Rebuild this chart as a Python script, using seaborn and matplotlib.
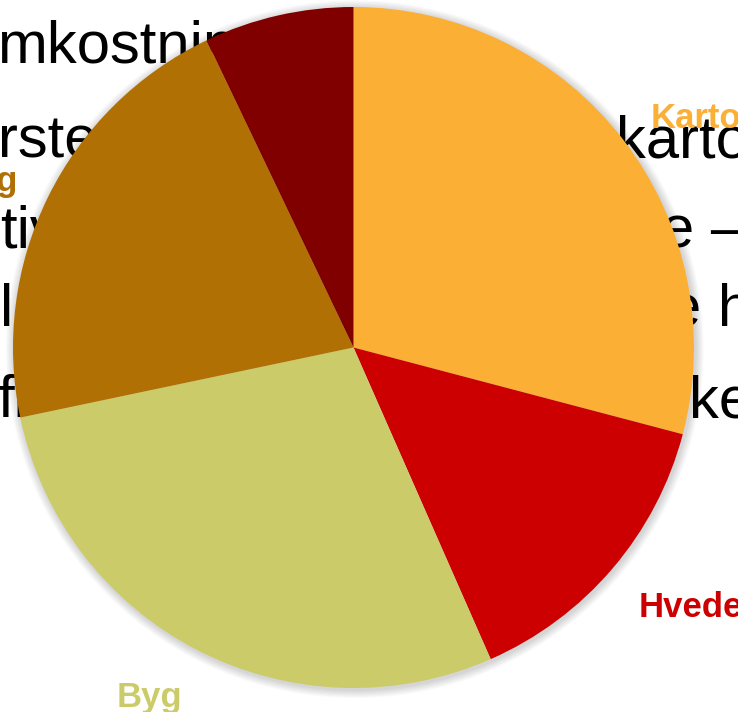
import matplotlib
matplotlib.use("Agg")
import matplotlib.pyplot as plt
import seaborn as sns
from matplotlib.patches import Circle
from matplotlib import font_manager

# ---- data ----
crops = ["Kartofler", "Hvede", "Byg", "Rug", "Havre"]
shares = [29.1, 14.3, 28.3, 21.2, 7.1]
colors = ["#FBAF35", "#CC0000", "#CBCC69", "#B07003", "#800000"]

# background slide text fragments (visible parts around the pie)
left_fragments = ["mkostninger", "rste", "tiv", "l", "fi"]
right_fragments = ["", "kartofler", "e –", "e h", "ke"]

# ---- layout (pixels) ----
W, H = 738, 712
cx, cy, R = 353.5, 347.5, 340.5
line_baselines = [63, 157, 248, 326, 417]
left_x = [-3, -2, 0, 0, -3]
right_x = [0, 616, 661, 668, 689]

sns.set_theme(style="white")
names = {f.name for f in font_manager.fontManager.ttflist}
narrow = "Liberation Sans Narrow" if "Liberation Sans Narrow" in names else "Liberation Sans"
plt.rcParams["font.family"] = ["Liberation Sans", "DejaVu Sans"]

fig = plt.figure(figsize=(W / 100, H / 100), dpi=100)
fig.patch.set_facecolor("white")
ax = fig.add_axes([0, 0, 1, 1])
ax.set_facecolor("white")

# background text
for i, base in enumerate(line_baselines):
    for s, x in ((left_fragments[i], left_x[i]), (right_fragments[i], right_x[i])):
        if s:
            ax.text(x / W, 1 - base / H, s, transform=fig.transFigure,
                    fontsize=43, family=[narrow, "DejaVu Sans"], color="black",
                    ha="left", va="baseline", zorder=0.5)

# soft shadow
for k in range(1, 8):
    ax.add_patch(Circle((0.004, -0.005), 1.0 + k * 0.0035, color="black",
                        alpha=0.025, lw=0, zorder=0.9))

wedges, texts = ax.pie(
    shares, labels=crops, colors=colors, startangle=90, counterclock=False,
    labeldistance=1.1,
    wedgeprops=dict(linewidth=0, zorder=1),
    textprops=dict(fontsize=25, fontweight="bold", family=["Liberation Sans", "DejaVu Sans"]),
)
for t, c in zip(texts, colors):
    t.set_color(c)
    if t.get_position()[1] < 0:
        t.set_va("top")

ax.set_xlim(-cx / R, (W - cx) / R)
ax.set_ylim(-(H - cy) / R, cy / R)
ax.set_aspect("equal")
ax.axis("off")

fig.savefig("out.png", dpi=100)
